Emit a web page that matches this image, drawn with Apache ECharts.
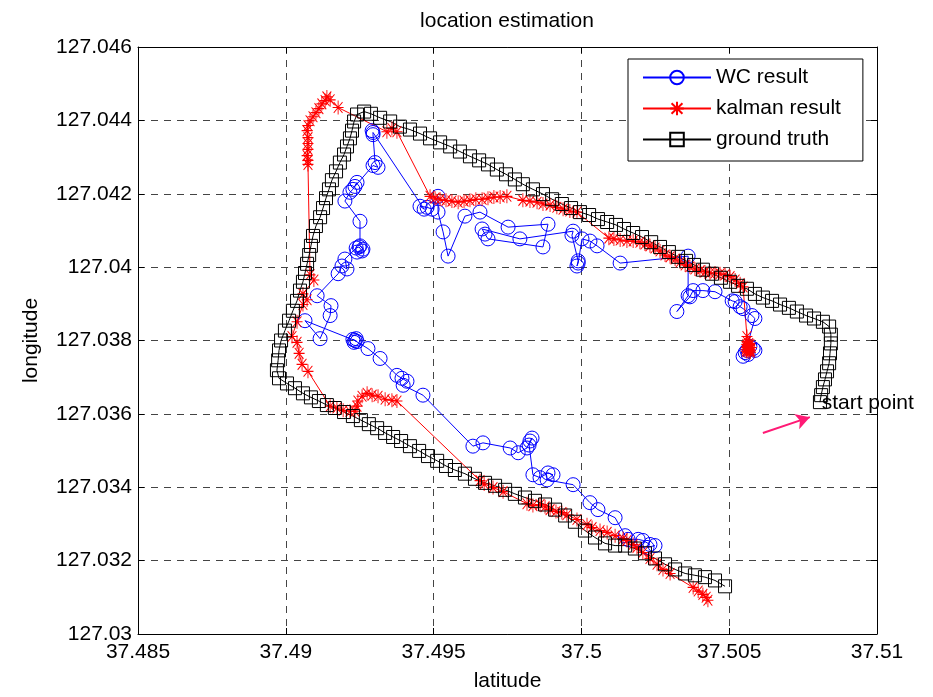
<!DOCTYPE html>
<html>
<head>
<meta charset="utf-8">
<script src="https://cdn.jsdelivr.net/npm/echarts@6/dist/echarts.min.js"></script>
<style>html,body{margin:0;padding:0;background:#fff;}#c{width:933px;height:697px;}</style>
</head>
<body>
<div id="c"></div>
<script>
const xTickLabels = ['37.485','37.49','37.495','37.5','37.505','37.51'];
const yTickLabels = ['127.03','127.032','127.034','127.036','127.038','127.04','127.042','127.044','127.046'];
const seriesNames = ['WC result','kalman result','ground truth'];

// [latitude, longitude]
const wcResult = [
[37.50547,127.03757],[37.50560,127.03773],[37.50570,127.03784],[37.50581,127.03778],[37.50587,127.03773],[37.50564,127.03762],[37.50554,127.03767],
[37.50587,127.03860],[37.50577,127.03868],[37.50547,127.03887],[37.50537,127.03892],[37.50520,127.03906],[37.50510,127.03908],[37.50452,127.03933],[37.50411,127.03936],[37.50378,127.03936],[37.50367,127.03919],[37.50323,127.03879],[37.50361,127.03922],[37.50361,127.04030],[37.50131,127.04011],[37.50053,127.04058],[37.50029,127.04071],[37.50002,127.04077],[37.49989,127.04011],[37.49985,127.04003],[37.49989,127.04017],[37.49968,127.04087],[37.49972,127.04098],[37.49792,127.04077],[37.49664,127.04104],[37.49674,127.04090],[37.49684,127.04077],[37.49870,127.04055],[37.49887,127.04117],[37.49752,127.04109],[37.49657,127.04150],[37.49606,127.04139],[37.49549,127.04030],[37.49532,127.04096],[37.49515,127.04150],[37.49515,127.04193],[37.49495,127.04158],[37.49478,127.04163],[37.49454,127.04166],[37.49468,127.04158],
[37.49295,127.04367],[37.49292,127.04372],[37.49295,127.04361],[37.49302,127.04285],[37.49312,127.04272],[37.49295,127.04277],[37.49234,127.04220],[37.49241,127.04231],[37.49227,127.04212],[37.49217,127.04204],[37.49200,127.04180],[37.49251,127.04125],[37.49251,127.04058],[37.49261,127.04049],[37.49241,127.04041],[37.49258,127.04044],[37.49248,127.04055],[37.49238,127.04052],[37.49200,127.04022],[37.49207,127.03995],[37.49190,127.04003],[37.49177,127.03982],[37.49106,127.03922],[37.49153,127.03895],[37.49150,127.03868],[37.49116,127.03805],[37.49065,127.03854],[37.49234,127.03800],[37.49238,127.03805],[37.49231,127.03795],[37.49241,127.03797],[37.49227,127.03803],[37.49278,127.03778],[37.49319,127.03751],[37.49376,127.03705],[37.49393,127.03697],[37.49410,127.03689],[37.49397,127.03678],[37.49464,127.03651],
[37.49633,127.03512],[37.49667,127.03521],[37.49759,127.03507],[37.49786,127.03494],[37.49816,127.03507],[37.49826,127.03526],[37.49833,127.03534],[37.49823,127.03515],[37.49836,127.03434],[37.49860,127.03426],[37.49887,127.03439],[37.49904,127.03434],[37.49884,127.03420],[37.49972,127.03407],[37.50029,127.03358],[37.50056,127.03339],[37.50114,127.03317],[37.50148,127.03268],[37.50158,127.03258],[37.50192,127.03258],[37.50208,127.03255],[37.50232,127.03244],[37.50222,127.03236],[37.50249,127.03241]
];

const kalmanResult = [
[37.50564,127.03781],[37.50570,127.03789],[37.50557,127.03776],[37.50567,127.03773],[37.50574,127.03781],[37.50560,127.03789],[37.50567,127.03778],[37.50564,127.03770],[37.50570,127.03776],[37.50560,127.03797],
[37.50562,127.03784],[37.50572,127.03772],[37.50559,127.03781],[37.50566,127.03792],[37.50571,127.03768],[37.50563,127.03776],[37.50568,127.03786],[37.50558,127.03771],
[37.50560,127.03811],
[37.50547,127.03946],[37.50537,127.03955],[37.50520,127.03965],[37.50503,127.03974],[37.50486,127.03979],[37.50469,127.03982],[37.50452,127.03984],[37.50435,127.03984],[37.50418,127.03987],[37.50401,127.03990],[37.50384,127.03995],[37.50367,127.04001],[37.50351,127.04006],[37.50334,127.04014],[37.50317,127.04022],[37.50300,127.04028],[37.50283,127.04033],[37.50266,127.04044],[37.50249,127.04052],[37.50232,127.04058],[37.50215,127.04063],[37.50198,127.04068],[37.50175,127.04071],[37.50154,127.04071],[37.50131,127.04074],[37.50110,127.04077],[37.50093,127.04079],
[37.49985,127.04150],[37.49961,127.04153],[37.49938,127.04158],[37.49917,127.04163],[37.49894,127.04169],[37.49870,127.04172],[37.49850,127.04177],[37.49826,127.04180],[37.49802,127.04182],[37.49748,127.04193],[37.49725,127.04191],[37.49704,127.04191],[37.49684,127.04188],[37.49664,127.04185],[37.49643,127.04185],[37.49623,127.04182],[37.49603,127.04180],[37.49583,127.04177],[37.49562,127.04180],[37.49542,127.04182],[37.49522,127.04185],[37.49505,127.04188],[37.49488,127.04193],
[37.49376,127.04369],[37.49359,127.04378],[37.49342,127.04369],[37.49177,127.04435],[37.49150,127.04456],[37.49139,127.04464],[37.49133,127.04454],[37.49122,127.04445],[37.49112,127.04432],[37.49102,127.04421],[37.49092,127.04410],[37.49082,127.04399],[37.49075,127.04386],[37.49072,127.04372],[37.49075,127.04353],[37.49075,127.04337],[37.49075,127.04321],[37.49072,127.04304],[37.49075,127.04291],[37.49075,127.04280],
[37.49082,127.03979],[37.49095,127.03965],[37.49058,127.03927],[37.49072,127.03911],[37.49058,127.03898],[37.49038,127.03851],[37.49021,127.03811],[37.49038,127.03795],[37.49045,127.03765],[37.49055,127.03735],[37.49075,127.03716],
[37.49150,127.03621],[37.49173,127.03616],[37.49194,127.03610],[37.49217,127.03607],[37.49234,127.03607],[37.49241,127.03621],[37.49244,127.03635],[37.49258,127.03648],[37.49275,127.03656],[37.49292,127.03651],[37.49312,127.03648],[37.49336,127.03640],[37.49359,127.03637],[37.49376,127.03635],
[37.49657,127.03418],[37.49671,127.03409],[37.49701,127.03399],[37.49735,127.03388],[37.49816,127.03355],[37.49836,127.03350],[37.49860,127.03353],[37.49877,127.03347],[37.49894,127.03339],[37.49914,127.03334],[37.49934,127.03331],[37.49951,127.03325],[37.49985,127.03312],[37.50019,127.03298],[37.50036,127.03290],[37.50063,127.03282],[37.50087,127.03277],[37.50114,127.03268],[37.50141,127.03260],[37.50154,127.03255],[37.50175,127.03244],[37.50188,127.03236],[37.50208,127.03222],[37.50232,127.03206],[37.50256,127.03190],[37.50276,127.03176],[37.50300,127.03165],[37.50378,127.03127],[37.50395,127.03117],[37.50411,127.03108],[37.50422,127.03100],[37.50428,127.03092]
];

const groundTruth = [
[37.50807,127.03632],[37.50811,127.03651],[37.50817,127.03673],[37.50824,127.03694],[37.50831,127.03716],[37.50838,127.03738],[37.50841,127.03765],[37.50844,127.03792],[37.50844,127.03816],[37.50838,127.03838],[37.50817,127.03851],[37.50787,127.03860],[37.50760,127.03868],[37.50729,127.03879],[37.50702,127.03889],[37.50672,127.03898],[37.50645,127.03908],[37.50614,127.03917],[37.50587,127.03927],[37.50560,127.03941],[37.50530,127.03949],[37.50503,127.03960],[37.50472,127.03971],[37.50442,127.03982],[37.50411,127.03993],[37.50381,127.04006],[37.50354,127.04017],[37.50327,127.04028],[37.50296,127.04041],[37.50266,127.04055],[37.50236,127.04068],[37.50205,127.04082],[37.50175,127.04093],[37.50144,127.04104],[37.50117,127.04115],[37.50087,127.04123],[37.50056,127.04131],[37.50026,127.04142],[37.49995,127.04150],[37.49965,127.04161],[37.49934,127.04172],[37.49901,127.04185],[37.49870,127.04199],[37.49836,127.04212],[37.49802,127.04226],[37.49775,127.04239],[37.49745,127.04253],[37.49714,127.04266],[37.49684,127.04280],[37.49654,127.04291],[37.49623,127.04302],[37.49589,127.04315],[37.49556,127.04329],[37.49522,127.04340],[37.49488,127.04351],[37.49454,127.04364],[37.49420,127.04375],[37.49386,127.04383],[37.49353,127.04397],[37.49319,127.04407],[37.49288,127.04418],[37.49265,127.04424],[37.49241,127.04416],[37.49231,127.04397],[37.49224,127.04372],[37.49217,127.04351],[37.49207,127.04329],[37.49197,127.04307],[37.49183,127.04285],[37.49170,127.04261],[37.49156,127.04237],[37.49146,127.04212],[37.49136,127.04188],[37.49126,127.04161],[37.49116,127.04136],[37.49102,127.04112],[37.49092,127.04085],[37.49085,127.04058],[37.49079,127.04033],[37.49072,127.04009],[37.49065,127.03984],[37.49058,127.03960],[37.49048,127.03936],[37.49038,127.03908],[37.49024,127.03881],[37.49011,127.03854],[37.48997,127.03827],[37.48984,127.03800],[37.48977,127.03773],[37.48974,127.03746],[37.48970,127.03719],[37.48977,127.03697],[37.49004,127.03683],[37.49031,127.03670],[37.49058,127.03656],[37.49085,127.03645],[37.49112,127.03635],[37.49139,127.03624],[37.49166,127.03616],[37.49197,127.03605],[37.49227,127.03594],[37.49254,127.03583],[37.49281,127.03572],[37.49309,127.03561],[37.49336,127.03548],[37.49363,127.03537],[37.49390,127.03526],[37.49420,127.03512],[37.49451,127.03499],[37.49481,127.03485],[37.49512,127.03472],[37.49542,127.03458],[37.49572,127.03447],[37.49606,127.03437],[37.49640,127.03423],[37.49674,127.03412],[37.49708,127.03404],[37.49742,127.03393],[37.49775,127.03382],[37.49809,127.03372],[37.49843,127.03363],[37.49877,127.03353],[37.49911,127.03339],[37.49945,127.03323],[37.49978,127.03306],[37.50012,127.03282],[37.50046,127.03263],[37.50080,127.03247],[37.50114,127.03241],[37.50148,127.03241],[37.50181,127.03233],[37.50215,127.03220],[37.50249,127.03206],[37.50283,127.03190],[37.50317,127.03176],[37.50351,127.03165],[37.50384,127.03160],[37.50418,127.03155],[37.50452,127.03146],[37.50486,127.03130]
];

// annotation: "start point" arrow (data coordinates)
const arrowFrom = [37.50614, 127.03548];
const arrowTo = [37.50773, 127.03591];
const startLabelAt = [37.50811, 127.03629];

const FONT = 'Liberation Sans, Arial, Helvetica, sans-serif';
const FS = 21;

function pick(labels, v) {
  for (const s of labels) { if (Math.abs(parseFloat(s) - v) < 1e-7) return s; }
  return '';
}

const starPath = 'path://M5,0L5,13M0,6.5L10,6.5M1,1.5L9,11.5M9,1.5L1,11.5';

const chart = echarts.init(document.getElementById('c'), null, {renderer: 'canvas'});
const axisCommon = {
  type: 'value',
  axisLine: {show: true, onZero: false, lineStyle: {color: '#000', width: 1}},
  axisTick: {show: true, inside: true, length: 6, lineStyle: {color: '#000', width: 1}},
  splitLine: {show: false},
  axisLabel: {show: false}
};
const gridLine = {show: true, lineStyle: {color: '#444', width: 1, type: [7, 6]}};
chart.setOption({
  animation: false,
  backgroundColor: '#fff',
  title: {
    text: 'location estimation', left: 507, top: 11, padding: 0, textAlign: 'center',
    textStyle: {fontFamily: FONT, fontSize: FS, fontWeight: 'normal', color: '#000'}
  },
  legend: {
    orient: 'vertical', left: 628, top: 59, itemWidth: 68, itemHeight: 17, itemGap: 10,
    padding: [8, 22, 11, 14], backgroundColor: '#fff', borderColor: '#000', borderWidth: 1, borderRadius: 0,
    selectedMode: false, data: seriesNames,
    textStyle: {fontFamily: FONT, fontSize: FS, color: '#000'}
  },
  grid: {left: 138, top: 47, width: 739, height: 590, show: false},
  xAxis: [
    Object.assign({}, axisCommon, {
      position: 'bottom', min: 37.485, max: 37.51, interval: 0.005,
      axisLabel: {show: true, color: '#000', fontFamily: FONT, fontSize: FS, margin: 8,
        formatter: v => pick(xTickLabels, v)},
      splitLine: gridLine,
      name: 'latitude', nameLocation: 'middle', nameGap: 37,
      nameTextStyle: {fontFamily: FONT, fontSize: FS, color: '#000'}
    }),
    Object.assign({}, axisCommon, {position: 'top', min: 37.485, max: 37.51, interval: 0.005})
  ],
  yAxis: [
    Object.assign({}, axisCommon, {
      position: 'left', min: 127.03, max: 127.046, interval: 0.002,
      axisLabel: {show: true, color: '#000', fontFamily: FONT, fontSize: FS, margin: 6,
        formatter: v => pick(yTickLabels, v)},
      splitLine: gridLine,
      name: 'longitude', nameLocation: 'middle', nameGap: 96,
      nameTextStyle: {fontFamily: FONT, fontSize: FS, color: '#000'}
    }),
    Object.assign({}, axisCommon, {position: 'right', min: 127.03, max: 127.046, interval: 0.002})
  ],
  series: [
    {
      name: seriesNames[0], type: 'line', data: wcResult, xAxisIndex: 0, yAxisIndex: 0,
      symbol: 'circle', symbolSize: 14, showSymbol: true, emphasis: {disabled: true},
      lineStyle: {color: '#0000ff', width: 1},
      itemStyle: {color: 'rgba(0,0,0,0)', borderColor: '#0000ff', borderWidth: 1}
    },
    {
      name: seriesNames[1], type: 'line', data: kalmanResult,
      symbol: starPath, symbolSize: [11, 14], showSymbol: true, emphasis: {disabled: true},
      lineStyle: {color: '#ff0000', width: 1},
      itemStyle: {color: 'rgba(0,0,0,0)', borderColor: '#ff0000', borderWidth: 1}
    },
    {
      name: seriesNames[2], type: 'line', data: groundTruth,
      symbol: 'rect', symbolSize: 13, showSymbol: true, emphasis: {disabled: true},
      lineStyle: {color: '#000', width: 1},
      itemStyle: {color: 'rgba(0,0,0,0)', borderColor: '#000', borderWidth: 1},
      markLine: {
        silent: true, symbol: ['none', 'arrow'], symbolSize: [12, 14],
        lineStyle: {color: '#ff1a75', width: 2, type: 'solid'},
        label: {show: false},
        data: [[{coord: arrowFrom}, {coord: arrowTo}]]
      },
      markPoint: {
        silent: true, symbol: 'circle', symbolSize: 1, itemStyle: {color: 'rgba(0,0,0,0)'},
        label: {show: true, position: 'right', distance: 0, formatter: 'start point',
          fontFamily: FONT, fontSize: FS, color: '#000'},
        data: [{coord: startLabelAt}]
      }
    }
  ]
});
</script>
</body>
</html>
